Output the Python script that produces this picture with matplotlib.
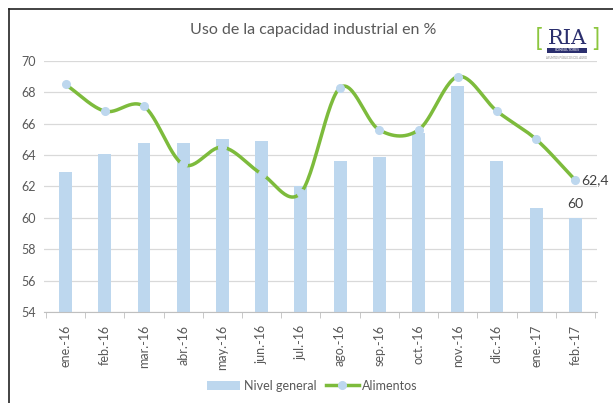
import numpy as np
import matplotlib
matplotlib.use("Agg")
import matplotlib.pyplot as plt
from matplotlib.lines import Line2D
from matplotlib.patches import Patch, Rectangle

categories = ["ene.-16", "feb.-16", "mar.-16", "abr.-16", "may.-16", "jun.-16", "jul.-16",
              "ago.-16", "sep.-16", "oct.-16", "nov.-16", "dic.-16", "ene.-17", "feb.-17"]
nivel_general = [62.9, 64.1, 64.8, 64.8, 65.0, 64.9, 62.0, 63.6, 63.9, 65.4, 68.4, 63.6, 60.6, 60.0]
alimentos = [68.5, 66.8, 67.1, 63.4, 64.5, 62.8, 61.6, 68.3, 65.6, 65.6, 69.0, 66.8, 65.0, 62.4]
yticks = [54, 56, 58, 60, 62, 64, 66, 68, 70]

plt.rcParams['font.family'] = ['Lato', 'DejaVu Sans']

bar_color = "#bdd7ee"
line_color = "#7dbb3c"
text_gray = "#595959"

fig = plt.figure(figsize=(6.13, 4.03), dpi=100)
ax = fig.add_axes([0.0718, 0.2258, 0.902, 0.623])

x = np.arange(len(categories))
ax.bar(x, nivel_general, width=0.33, color=bar_color, zorder=2)

# Catmull-Rom smoothing (like Excel smoothed line)
def smooth(xs, ys, n=30):
    xs = np.asarray(xs, float); ys = np.asarray(ys, float)
    px = np.concatenate([[2*xs[0]-xs[1]], xs, [2*xs[-1]-xs[-2]]])
    py = np.concatenate([[2*ys[0]-ys[1]], ys, [2*ys[-1]-ys[-2]]])
    outx, outy = [], []
    for i in range(1, len(px)-2):
        t = np.linspace(0, 1, n)
        b = lambda a0, a1, a2, a3: 0.5*((2*a1) + (-a0+a2)*t + (2*a0-5*a1+4*a2-a3)*t**2 + (-a0+3*a1-3*a2+a3)*t**3)
        outx.append(b(px[i-1], px[i], px[i+1], px[i+2]))
        outy.append(b(py[i-1], py[i], py[i+1], py[i+2]))
    return np.concatenate(outx), np.concatenate(outy)

sx, sy = smooth(x, alimentos)
ax.plot(sx, sy, color=line_color, lw=2.5, zorder=3, solid_capstyle='round')
ax.plot(x, alimentos, ls='none', marker='o', ms=5.5, mfc=bar_color, mec=bar_color, zorder=4)

ax.set_ylim(54, 70)
ax.set_xlim(-0.55, len(categories)-0.45)
ax.set_yticks(yticks)
ax.set_yticklabels([str(v) for v in yticks], color=text_gray, fontsize=9)
ax.set_xticks(x)
ax.set_xticklabels(categories, rotation=90, color=text_gray, fontsize=9)
ax.tick_params(axis='y', length=0, pad=6)
ax.tick_params(axis='x', length=0, pad=9)
ax.set_xticks(np.arange(-0.5, len(categories), 1), minor=True)
ax.tick_params(axis='x', which='minor', length=4, color="#bfbfbf")

ax.grid(axis='y', color="#d9d9d9", lw=0.9, zorder=0)
ax.set_axisbelow(True)
for s in ['top', 'right', 'left']:
    ax.spines[s].set_visible(False)
ax.spines['bottom'].set_color("#bfbfbf")

ax.annotate("62,4", (x[-1], alimentos[-1]), xytext=(4, 0), textcoords='offset points',
            ha='left', va='center', fontsize=10, color="#404040", zorder=5)
ax.annotate("60", (x[-1], nivel_general[-1]), xytext=(0, 6), textcoords='offset points',
            ha='center', va='bottom', fontsize=10, color="#404040", zorder=5)

fig.text(0.511, 0.925, "Uso de la capacidad industrial en %", ha='center', va='center',
         fontsize=11.5, color=text_gray)

handles = [Patch(facecolor=bar_color, edgecolor='none'),
           Line2D([0], [0], color=line_color, lw=2.5, marker='o', ms=5.5, mfc=bar_color, mec=bar_color)]
fig.legend(handles, ["Nivel general", "Alimentos"], loc='center', bbox_to_anchor=(0.51, 0.043),
           ncol=2, frameon=False, fontsize=9, handlelength=2.6, columnspacing=0.8, handletextpad=0.3,
           labelcolor=text_gray)

# RIA logo approximation
fig.text(0.925, 0.905, "RIA", ha='center', va='center', fontsize=15, color="#2b2f6e",
         family=['DejaVu Serif'])
fig.text(0.878, 0.905, "[", ha='center', va='center', fontsize=18, color="#8cc63f")
fig.text(0.972, 0.905, "]", ha='center', va='center', fontsize=18, color="#8cc63f")
fig.patches.append(Rectangle((0.893, 0.868), 0.064, 0.014, transform=fig.transFigure,
                             facecolor="#2b2f6e", edgecolor='none'))
fig.text(0.925, 0.875, "CONSULTORES", ha='center', va='center', fontsize=2.5, color="white")
fig.text(0.925, 0.855, "ASUNTOS PÚBLICOS DEL AGRO", ha='center', va='center', fontsize=2, color="#888888")

# border left/top
fig.add_artist(Line2D([0.014, 0.014], [0, 0.978], transform=fig.transFigure, color="#222222", lw=1.2))
fig.add_artist(Line2D([0.014, 1.0], [0.978, 0.978], transform=fig.transFigure, color="#222222", lw=1.2))

fig.savefig("out.png", dpi=100)
